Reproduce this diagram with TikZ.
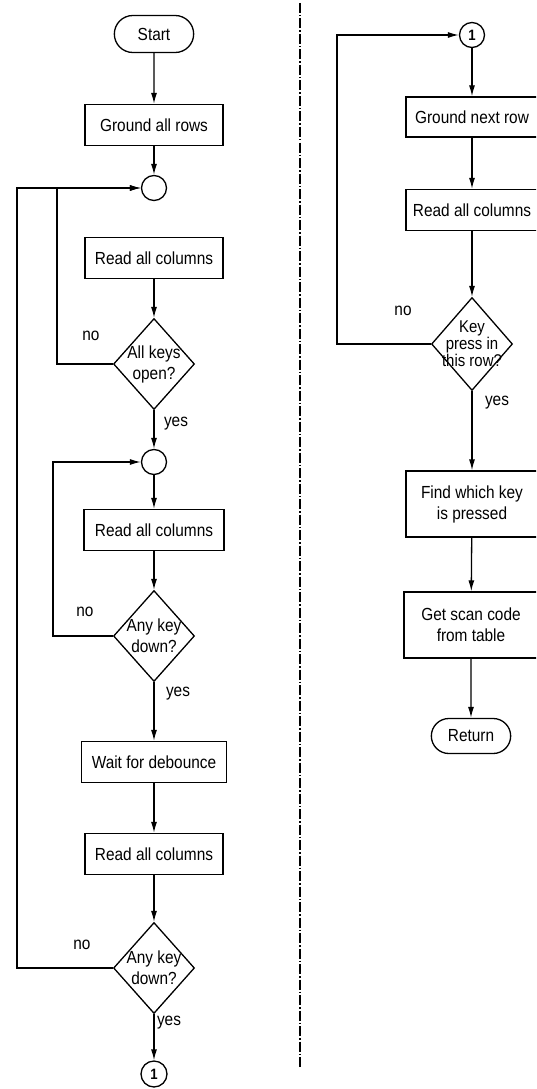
\documentclass[tikz,border=0pt]{standalone}
\usepackage{fontspec}
\setmainfont{Liberation Sans}[FakeStretch=0.88]
\usetikzlibrary{shapes.geometric,shapes.misc,arrows.meta}

\begin{document}
\begin{tikzpicture}[x=1pt,y=-1pt,line width=1.3pt,>={Latex[length=11pt,width=6pt]},
	every node/.style={font=\fontsize{17.5}{21}\selectfont},
	box/.style={draw,minimum width=138pt,minimum height=41pt,inner sep=2pt,align=center},
	term/.style={draw,rounded rectangle,minimum width=86pt,minimum height=37pt},
	test/.style={draw,diamond,minimum width=81pt,minimum height=91pt,inner sep=0pt},
	joint/.style={draw,circle,minimum size=25pt,inner sep=0pt,font=\fontsize{15}{15}\selectfont\bfseries}]
		\clip (0,0) rectangle (536,1089);
		% left column
		\node[term] (start) at (154,34) {Start};
		\node[box] (grall) at (154,125) {Ground all rows};
		\node[joint] (j1) at (154,188) {};
		\node[box] (read1) at (154,258) {Read all columns};
		\node[test,label={[align=center]center:All keys\\open?}] (open) at (154,364) {};
		\node[joint] (j2) at (154,462) {};
		\node[box,minimum width=140pt] (read2) at (154,530) {Read all columns};
		\node[test,label={[align=center]center:Any key\\down?}] (down1) at (154,636) {};
		\node[box,minimum width=145pt] (wait) at (154,762) {Wait for debounce};
		\node[box] (read3) at (154,854) {Read all columns};
		\node[test,label={[align=center]center:Any key\\down?}] (down2) at (154,968) {};
		\node[joint,minimum size=26pt] (out1) at (154,1074) {1};
		\draw[->] (start)--(grall);
		\draw[->] (grall)--(j1);
		\draw[->] (read1)--(open);
		\draw[->] (open)--(j2);
		\draw[->] (j2)--(read2);
		\draw[->] (read2)--(down1);
		\draw[->] (down1)--(wait);
		\draw[->] (wait)--(read3);
		\draw[->] (read3)--(down2);
		\draw[->] (down2)--(out1);
		\draw[->] (open.west)--(57,364) |- (j1);
		\draw[->] (down1.west)--(53,636) |- (j2);
		\draw[->] (down2.west)--(17,968) |- (j1);
		\node (no1) at (91,336) {no};
		\node (no2) at (85,612) {no};
		\node (no3) at (82,945) {no};
		\node (yes1) at (176,424) {yes};
		\node (yes2) at (178,694) {yes};
		\node (yes3) at (169,1023) {yes};
		% divider
		\draw[line width=1.8pt,dash pattern=on 10pt off 2pt on 1.5pt off 2pt] (300,3)--(300,1067);
		% right column
		\node[joint] (in1) at (472,35) {1};
		\node[box,minimum width=132pt,minimum height=40pt] (grnext) at (472,117) {Ground next row};
		\node[box,minimum width=132pt,minimum height=41pt] (readR) at (472,210) {Read all columns};
		\node[test,minimum height=93pt,label={[align=center,font=\fontsize{17}{15}\selectfont]center:Key\\press in\\this row?}] (row) at (472,344) {};
		\node[box,minimum width=132pt,minimum height=66pt] (find) at (472,504) {Find which key\\is pressed};
		\node[box,minimum width=134pt,minimum height=66pt] (scan) at (471,625) {Get scan code\\from table};
		\node[term,minimum height=35pt] (ret) at (471,736) {Return};
		\draw[->] (in1)--(grnext);
		\draw[->] (grnext)--(readR);
		\draw[->] (readR)--(row);
		\draw[->] (row)--(find);
		\draw[->] (find)--(scan);
		\draw[->] (scan)--(ret);
		\draw[->] (row.west)--(337,344) |- (in1);
		\node (no4) at (403,311) {no};
		\node (yes4) at (497,403) {yes};
\end{tikzpicture}
\end{document}
